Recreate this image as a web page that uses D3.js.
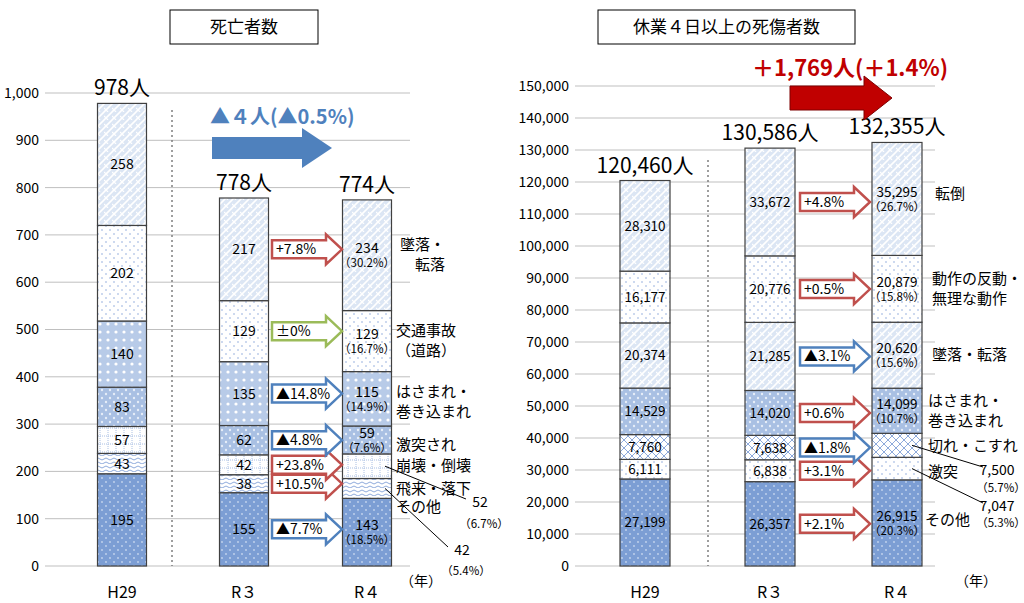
<!DOCTYPE html>
<html><head><meta charset="utf-8">
<script src="https://cdn.jsdelivr.net/npm/d3@7"></script>
<style>body{margin:0;background:#fff}text{font-family:"Noto Sans CJK JP","Noto Sans",sans-serif}</style>
</head><body>
<svg id="c" width="1024" height="603"></svg>
<script>
// data
var years = ["H29", "R３", "R４"];
var deathCats = ["その他", "飛来・落下", "崩壊・倒壊", "激突され", "はさまれ・巻き込まれ", "交通事故（道路）", "墜落・転落"];
var deathH29 = [195, 43, 57, 83, 140, 202, 258];
var deathR3 = [155, 38, 42, 62, 135, 129, 217];
var deathR4 = [143, 42, 52, 59, 115, 129, 234];
var injCats = ["その他", "激突", "切れ・こすれ", "はさまれ・巻き込まれ", "墜落・転落", "動作の反動・無理な動作", "転倒"];
var injH29 = [27199, 6111, 7760, 14529, 20374, 16177, 28310];
var injR3 = [26357, 6838, 7638, 14020, 21285, 20776, 33672];
var injR4 = [26915, 7047, 7500, 14099, 20620, 20879, 35295];
var deathTicks = d3.range(0, 1001, 100);
var injTicks = d3.range(0, 150001, 10000);

var svg = d3.select("#c");
var defs = svg.append("defs");
var BL = "#4f81bd";

function pat(id, bg, draw) {
    var p = defs.append("pattern").attr("id", id).attr("patternUnits", "userSpaceOnUse")
        .attr("width", 8).attr("height", 8);
    p.append("rect").attr("width", 8).attr("height", 8).attr("fill", bg);
    draw(p);
}
pat("weave", "#dce6f4", function(p) {
    p.append("path").attr("d", "M0,8 L8,0 M-2,2 L2,-2 M6,10 L10,6").attr("stroke", "#fff").attr("stroke-width", 1.6);
    p.append("path").attr("d", "M0,4 L4,8").attr("stroke", "#fff").attr("stroke-width", 1.2);
});
pat("cross", "#fff", function(p) {
    p.append("path").attr("d", "M0,0 L8,8 M8,0 L0,8").attr("stroke", "#8eaadb").attr("stroke-width", 1);
});
pat("sdots", "#fff", function(p) {
    p.append("circle").attr("cx", 2).attr("cy", 2).attr("r", 0.8).attr("fill", "#8eaadb");
    p.append("circle").attr("cx", 6).attr("cy", 6).attr("r", 0.8).attr("fill", "#8eaadb");
});
pat("dense", "#a9c0e3", function(p) {
    p.append("circle").attr("cx", 2).attr("cy", 2).attr("r", 1.2).attr("fill", "#e6edf8");
    p.append("circle").attr("cx", 6).attr("cy", 6).attr("r", 1.2).attr("fill", "#e6edf8");
});
pat("dense2", "#b8cbe8", function(p) {
    p.append("circle").attr("cx", 4).attr("cy", 4).attr("r", 1.6).attr("fill", "#fff");
});
pat("grid", "#fff", function(p) {
    p.append("path").attr("d", "M0,4 H8 M4,0 V8").attr("stroke", "#a9c0e3").attr("stroke-dasharray", "1,1");
});
pat("wave", "#fff", function(p) {
    p.append("path").attr("d", "M0,3 Q2,1 4,3 T8,3 M0,7 Q2,5 4,7 T8,7").attr("fill", "none").attr("stroke", "#8eaadb");
});
pat("dark", "#7c9ed4", function(p) {
    p.append("circle").attr("cx", 2).attr("cy", 2).attr("r", 0.9).attr("fill", "#c5d5ee");
    p.append("circle").attr("cx", 6).attr("cy", 6).attr("r", 0.9).attr("fill", "#c5d5ee");
});
var deathFill = ["dark", "wave", "grid", "dense", "dense2", "sdots", "weave"];
var injFill = ["dark", "sdots", "cross", "dense", "weave", "sdots", "weave"];

function arrow(g, x1, x2, y, bh, hh, hl, stroke, fill, sw) {
    var xb = x2 - hl;
    var d = "M" + x1 + "," + (y - bh / 2) + "H" + xb + "V" + (y - hh / 2) + "L" + x2 + "," + y +
        "L" + xb + "," + (y + hh / 2) + "V" + (y + bh / 2) + "H" + x1 + "Z";
    return g.append("path").attr("d", d).attr("fill", fill).attr("stroke", stroke).attr("stroke-width", sw);
}
function fmtPct(a, b) {
    var v = Math.round((b / a - 1) * 1000) / 10;
    if (v === 0) return "±0%";
    return (v > 0 ? "+" : "▲") + Math.abs(v).toFixed(1) + "%";
}
function pctColor(a, b) { return b > a ? "#c0504d" : (b < a ? BL : "#9bbb59"); }

function chart(o) {
    var g = svg.append("g");
    var y = d3.scaleLinear().domain([0, o.max]).range([566, o.top]);
    var x = d3.scaleOrdinal().domain(years).range(o.xs);
    g.selectAll(".grid").data(o.ticks).enter().append("line")
        .attr("x1", o.gx0).attr("x2", o.gx1).attr("y1", function(d) { return y(d); }).attr("y2", function(d) { return y(d); })
        .attr("stroke", "#bfbfbf");
    var ax = g.append("g").attr("transform", "translate(" + o.gx0 + ",0)")
        .call(d3.axisLeft(y).tickValues(o.ticks).tickSize(0).tickPadding(6).tickFormat(d3.format(",")));
    ax.select(".domain").remove();
    ax.selectAll("text").attr("font-size", 14).attr("fill", "#000");
    g.append("line").attr("x1", o.sep).attr("x2", o.sep).attr("y1", o.sepTop).attr("y2", 566)
        .attr("stroke", "#7f7f7f").attr("stroke-dasharray", "2,3").attr("stroke-width", 1.5);
    var series = [o.h29, o.r3, o.r4];
    series.forEach(function(vals, si) {
        var cx = x(years[si]), acc = 0;
        vals.forEach(function(v, i) {
            var y0 = y(acc), y1 = y(acc + v);
            g.append("rect").attr("x", cx - o.bw / 2).attr("width", o.bw).attr("y", y1).attr("height", y0 - y1)
                .attr("fill", "url(#" + o.fills[i] + ")").attr("stroke", "#404040").attr("stroke-width", 1.2);
            var mid = (y0 + y1) / 2;
            var outside = si === 2 && o.outside.indexOf(i) >= 0;
            if (!outside) {
                var fs = o.fs;
                if (si === 2) {
                    g.append("text").attr("x", cx).attr("y", mid - 2).attr("text-anchor", "middle").attr("font-size", fs).text(o.fmt(v));
                    g.append("text").attr("x", cx).attr("y", mid + 12).attr("text-anchor", "middle").attr("font-size", 11.5)
                        .text("（" + (v / d3.sum(vals) * 100).toFixed(1) + "%）");
                } else {
                    g.append("text").attr("x", cx).attr("y", mid + 5).attr("text-anchor", "middle").attr("font-size", fs).text(o.fmt(v));
                }
            }
            if (si === 2) {
                var a = o.r3[i];
                var r3mid = y(d3.sum(o.r3.slice(0, i)) + a / 2);
                var col = pctColor(a, v);
                arrow(g, o.ax0, o.ax1, r3mid, 18, 30, 16, col, "#fff", 2.5);
                g.append("text").attr("x", o.ax0 + 4).attr("y", r3mid + 5).attr("font-size", 14).text(fmtPct(a, v));
            }
            acc += v;
        });
        g.append("text").attr("x", cx).attr("y", y(acc) - 8).attr("text-anchor", "middle").attr("font-size", 21)
            .text(o.fmt(acc) + "人");
        g.append("text").attr("x", cx).attr("y", 598).attr("text-anchor", "middle").attr("font-size", 16).text(years[si]);
    });
    g.append("text").attr("x", o.nen).attr("y", 586).attr("font-size", 14).text("（年）");
    // title box
    g.append("rect").attr("x", o.tx).attr("y", 10).attr("width", o.tw).attr("height", 34).attr("fill", "#fff").attr("stroke", "#000");
    g.append("text").attr("x", o.tx + o.tw / 2).attr("y", 33).attr("text-anchor", "middle").attr("font-size", 17).text(o.title);
    // category labels
    var r4 = o.r4;
    o.labels.forEach(function(l) {
        var c = d3.sum(r4.slice(0, l.i)) + r4[l.i] / 2;
        l.lines.forEach(function(t, k) {
            g.append("text").attr("x", l.x).attr("y", y(c) + l.dy + k * 20).attr("font-size", 15).text(t);
        });
    });
    o.callouts.forEach(function(cl) {
        var c = d3.sum(r4.slice(0, cl.i)) + r4[cl.i] / 2;
        g.append("line").attr("x1", cl.lx).attr("y1", y(c)).attr("x2", cl.x - 14).attr("y2", cl.y - 8).attr("stroke", "#000");
        g.append("text").attr("x", cl.x).attr("y", cl.y).attr("text-anchor", "middle").attr("font-size", 14).text(o.fmt(r4[cl.i]));
        g.append("text").attr("x", cl.x + 4).attr("y", cl.y + cl.gap).attr("text-anchor", "middle").attr("font-size", 11.5)
            .text("（" + (r4[cl.i] / d3.sum(r4) * 100).toFixed(1) + "%）");
    });
    return g;
}

var fmtD = d3.format("d"), fmtI = d3.format(",");
chart({ max: 1000, top: 93, ticks: deathTicks, gx0: 45, gx1: 410, xs: [122, 244, 367], bw: 49, sep: 172, sepTop: 110,
    h29: deathH29, r3: deathR3, r4: deathR4, fills: deathFill, fmt: fmtD, fs: 14, ax0: 272, ax1: 342,
    outside: [1, 2], nen: 400, tx: 170, tw: 148, title: "死亡者数",
    labels: [
        { i: 6, x: 400, dy: -5, lines: ["墜落・", "　転落"] },
        { i: 5, x: 396, dy: -5, lines: ["交通事故", "（道路）"] },
        { i: 4, x: 396, dy: -2, lines: ["はさまれ・", "巻き込まれ"] },
        { i: 3, x: 396, dy: 10, lines: ["激突され"] },
        { i: 2, x: 396, dy: 5, lines: ["崩壊・倒壊"] },
        { i: 1, x: 396, dy: 6, lines: ["飛来・落下"] },
        { i: 0, x: 396, dy: -20, lines: ["その他"] }
    ],
    callouts: [{ i: 2, lx: 385, x: 480, y: 507, gap: 21 }, { i: 1, lx: 385, x: 462, y: 555, gap: 20 }]
});
chart({ max: 150000, top: 86, ticks: injTicks, gx0: 575, gx1: 935, xs: [645, 770, 897], bw: 50, sep: 708, sepTop: 160,
    h29: injH29, r3: injR3, r4: injR4, fills: injFill, fmt: fmtI, fs: 13.5, ax0: 800, ax1: 870,
    outside: [1, 2], nen: 955, tx: 598, tw: 257, title: "休業４日以上の死傷者数",
    labels: [
        { i: 6, x: 935, dy: 0, lines: ["転倒"] },
        { i: 5, x: 932, dy: -5, lines: ["動作の反動・", "無理な動作"] },
        { i: 4, x: 932, dy: 5, lines: ["墜落・転落"] },
        { i: 3, x: 928, dy: -5, lines: ["はさまれ・", "巻き込まれ"] },
        { i: 2, x: 928, dy: 6, lines: ["切れ・こすれ"] },
        { i: 1, x: 928, dy: 8, lines: ["激突"] },
        { i: 0, x: 925, dy: 2, lines: ["その他"] }
    ],
    callouts: [{ i: 2, lx: 912, x: 997, y: 475, gap: 17 }, { i: 1, lx: 912, x: 997, y: 511, gap: 16 }]
});

// headline arrows
var head = svg.append("g");
arrow(head, 212, 332, 148, 22, 40, 30, "none", BL, 0);
head.append("text").attr("x", 210).attr("y", 124).attr("font-size", 20).attr("font-weight", "bold").attr("fill", BL).text("▲４人(▲0.5%)");
arrow(head, 790, 892, 98, 24, 44, 28, "#7f0000", "#c00000", 1);
head.append("text").attr("x", 752).attr("y", 76).attr("font-size", 22).attr("font-weight", "bold").attr("fill", "#c00000").text("＋1,769人(＋1.4%)");
</script>
</body></html>
